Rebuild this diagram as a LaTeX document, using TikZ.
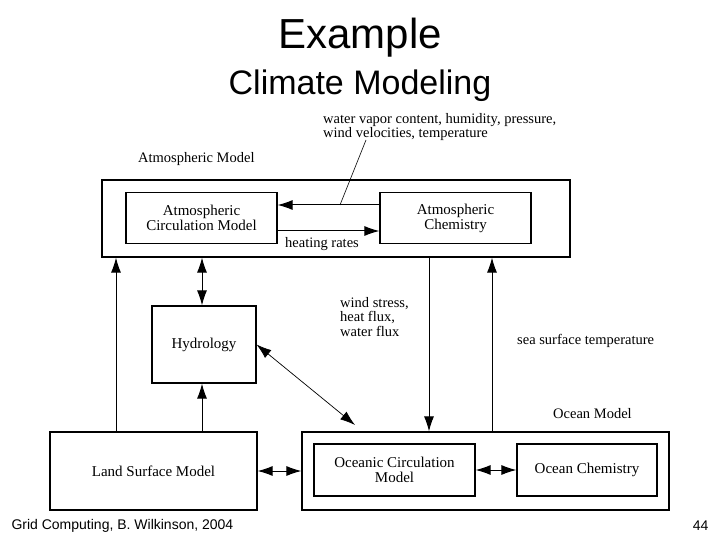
\documentclass[tikz,border=0pt]{standalone}
\usepackage{fontspec}
\setmainfont{Liberation Serif}
\newfontfamily\sans{Liberation Sans}
\usetikzlibrary{arrows.meta}
\begin{document}
\begin{tikzpicture}[x=1pt,y=-1pt,
 box/.style={draw,line width=1.1pt,inner sep=0pt,font=\fontsize{15}{15}\selectfont,align=center},
 lab/.style={font=\fontsize{14.5}{14.5}\selectfont,align=left,inner sep=0pt},
 ar/.style={line width=1pt,-{Latex[length=15pt,width=10pt]}},
 dar/.style={line width=1pt,{Latex[length=15pt,width=10pt]}-{Latex[length=15pt,width=10pt]}}]
\useasboundingbox (0,0) rectangle (720,540);
\node[font=\sans\fontsize{42}{46}\selectfont] (t1) at (360,38) {Example};
\node[font=\sans\fontsize{34}{38}\selectfont] (t2) at (360,86) {Climate Modeling};
\node[font=\sans\fontsize{14}{16}\selectfont,anchor=west] (f1) at (8,526) {Grid Computing, B. Wilkinson, 2004};
\node[font=\sans\fontsize{14}{16}\selectfont,anchor=east] (f2) at (712,526) {44};
% boxes
\node[box,minimum width=468pt,minimum height=77pt] (am) at (336,218.5) {};
\node[box,minimum width=151pt,minimum height=51pt] (acm) at (201.5,218) {Atmospheric\\Circulation Model};
\node[box,minimum width=151pt,minimum height=51pt] (ac) at (455.5,218) {Atmospheric\\Chemistry};
\node[box,minimum width=104pt,minimum height=77pt] (hy) at (204,344.5) {Hydrology};
\node[box,minimum width=207pt,minimum height=78pt] (ls) at (153.5,471) {Land Surface Model};
\node[box,minimum width=367pt,minimum height=78pt] (om) at (485.5,471) {};
\node[box,minimum width=161pt,minimum height=52pt] (ocm) at (394.5,470) {Oceanic Circulation\\Model};
\node[box,minimum width=140pt,minimum height=52pt] (oc) at (587,470) {Ocean Chemistry};
% labels
\node[lab,anchor=west] (l1) at (323,127) {water vapor content, humidity, pressure,\\wind velocities, temperature};
\node[lab,anchor=west] (l2) at (138,159) {Atmospheric Model};
\node[lab,anchor=north] (l3) at (322,237) {heating rates};
\node[lab,anchor=west] (l4) at (340,317) {wind stress,\\heat flux,\\water flux};
\node[lab,anchor=west] (l5) at (517,341) {sea surface temperature};
\node[lab,anchor=west] (l6) at (553,414) {Ocean Model};
% connectors
\draw[ar] (ac.west|-0,205) -- (acm.east|-0,205);
\draw[ar] (acm.east|-0,231) -- (ac.west|-0,231);
\coordinate (m) at (340,205);
\draw[line width=0.6pt] (m) -- (366,140);
\draw[ar] (ls.north-|116,0) -- (am.south-|116,0);
\draw[dar] (am.south-|202,0) -- (hy.north-|202,0);
\draw[ar] (ls.north-|202,0) -- (hy.south-|202,0);
\draw[dar,line width=0.7pt] (hy.east) -- (355,425);
\draw[ar] (am.south-|429,0) -- (om.north-|429,0);
\draw[ar] (om.north-|492,0) -- (am.south-|492,0);
\draw[dar] (ls.east) -- (om.west);
\draw[dar] (ocm.east) -- (oc.west);
\end{tikzpicture}
\end{document}
